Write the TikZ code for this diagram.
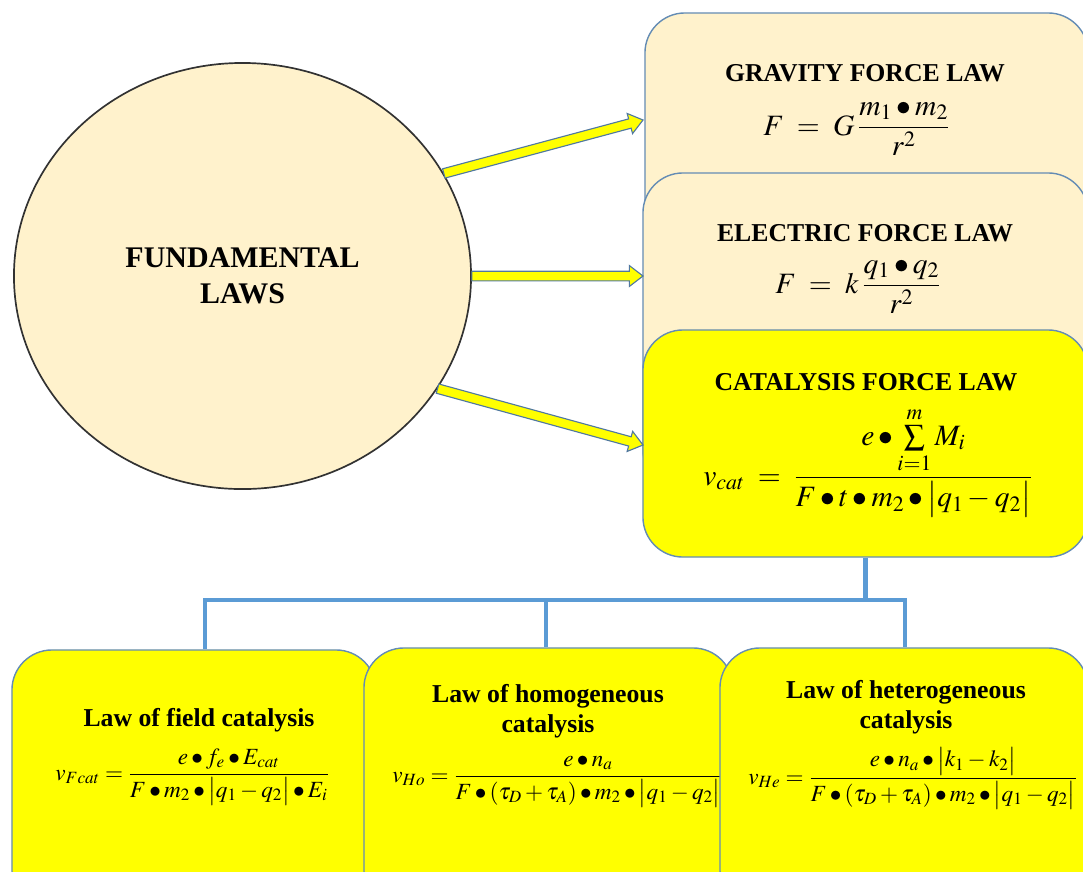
\documentclass[tikz,border=0pt]{standalone}
\usepackage{amsmath}
\usepackage{mathptmx}
\usepackage{fontspec}
\setmainfont{Liberation Serif}
\usetikzlibrary{shapes.geometric,calc}

\definecolor{beige}{RGB}{255,242,204}
\definecolor{lemon}{RGB}{255,255,0}
\definecolor{boxline}{RGB}{100,140,180}
\definecolor{arrowline}{RGB}{80,120,160}
\definecolor{treeblue}{RGB}{91,155,213}
\definecolor{rimgray}{RGB}{50,50,50}

\tikzset{
  beigebox/.style={draw=boxline, fill=beige, rounded corners=1cm, line width=1pt},
  yellowbox/.style={draw=boxline, fill=lemon, rounded corners=1cm, line width=1pt},
  lawtitle/.style={font=\fontsize{18.3}{21.3}\selectfont\bfseries, align=center, inner sep=0pt},
  bigformula/.style={anchor=base west, inner sep=0pt, font=\fontsize{21}{25}\selectfont},
  smallformula/.style={anchor=base west, inner sep=0pt, font=\fontsize{16.5}{20}\selectfont},
  fatarrow/.style={draw=arrowline, fill=lemon, line width=0.8pt, line join=miter},
  tree/.style={draw=treeblue, line width=3.5pt, line join=miter}
}

% block arrow from #1 to #2
\newcommand\fatarrow[2]{%
  \coordinate (fa-h) at ($(#2)!0.34cm!(#1)$);
  \draw[fatarrow] ($(#1)!0.12cm!90:(#2)$) -- ($(fa-h)!0.12cm!90:(#2)$)
    -- ($(fa-h)!0.26cm!90:(#2)$) -- (#2) -- ($(fa-h)!0.26cm!-90:(#2)$)
    -- ($(fa-h)!0.12cm!-90:(#2)$) -- ($(#1)!0.12cm!-90:(#2)$) -- cycle;}

\begin{document}
\begin{tikzpicture}[x=0.025cm, y=-0.025cm]
  \useasboundingbox (0,0) rectangle (1083,871);

  \node[beigebox, minimum width=11.075cm, minimum height=7.925cm] (grav) at (866.5,171.5) {};
  \node[lawtitle] (gravT) at (865,73.5) {GRAVITY FORCE LAW};
  \node[bigformula] (gravF) at (763,135) {$F\;=\;G\,\dfrac{m_1\bullet m_2}{r^2}$};

  \node[beigebox, minimum width=11.125cm, minimum height=7.925cm] (elec) at (865.5,331.5) {};
  \node[lawtitle] (elecT) at (865,233) {ELECTRIC FORCE LAW};
  \node[bigformula] (elecF) at (775,293) {$F\;=\;k\,\dfrac{q_1\bullet q_2}{r^2}$};

  \node[yellowbox, minimum width=11.125cm, minimum height=5.675cm] (cat) at (865.5,443.5) {};
  \node[lawtitle] (catT) at (866,382) {CATALYSIS FORCE LAW};
  \node[bigformula] (catF) at (703,485)
    {$v_{cat}\;=\;\dfrac{e\bullet\sum\limits_{i=1}^{m}M_i}{F\bullet t\bullet m_2\bullet\bigl|q_1-q_2\bigr|}$};

  \node[fill=beige, draw=rimgray, line width=1.2pt, ellipse, minimum width=11.425cm,
    minimum height=10.65cm, font=\fontsize{21.3}{25.6}\selectfont\bfseries, align=center]
    (fund) at (242.5,276) {FUNDAMENTAL\\LAWS};

  \coordinate (tipG) at (643,120);
  \coordinate (tipE) at (643,276);
  \coordinate (tipC) at (643,445);
  \fatarrow{fund.27.5}{tipG}
  \fatarrow{fund.0}{tipE}
  \fatarrow{fund.-30.8}{tipC}

  \node[yellowbox, minimum width=9.1cm, minimum height=6.5cm] (field) at (194,780) {};
  \node[lawtitle] (fieldT) at (199,720) {Law of field catalysis};
  \node[smallformula] (fieldF) at (55,780)
    {$v_{Fcat}=\dfrac{e\bullet f_e\bullet E_{cat}}{F\bullet m_2\bullet\bigl|q_1-q_2\bigr|\bullet E_i}$};

  \node[yellowbox, minimum width=9.225cm, minimum height=6.55cm] (homo) at (548.5,779) {};
  \node[lawtitle] (homoT) at (548,711) {Law of homogeneous\\catalysis};
  \node[smallformula] (homoF) at (392,782)
    {$v_{Ho}=\dfrac{e\bullet n_a}{F\bullet(\tau_D+\tau_A)\bullet m_2\bullet\bigl|q_1-q_2\bigr|}$};

  \node[yellowbox, minimum width=9.2cm, minimum height=6.55cm] (hetero) at (904,779) {};
  \node[lawtitle] (heteroT) at (906,707) {Law of heterogeneous\\catalysis};
  \node[smallformula] (heteroF) at (748,784)
    {$v_{He}=\dfrac{e\bullet n_a\bullet\bigl|k_1-k_2\bigr|}{F\bullet(\tau_D+\tau_A)\bullet m_2\bullet\bigl|q_1-q_2\bigr|}$};

  \coordinate (busL) at (205,600);
  \coordinate (busM) at (546,600);
  \coordinate (busR) at (905,600);
  \draw[tree] (cat.south) -- (cat.south |- busR);
  \draw[tree] (busL |- field.north) -- (busL) -- (busR) -- (busR |- hetero.north);
  \draw[tree] (busM) -- (busM |- homo.north);
\end{tikzpicture}
\end{document}
